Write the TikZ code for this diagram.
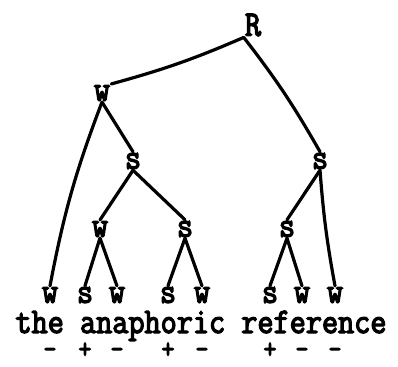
\documentclass[tikz,border=0pt]{standalone}
\usepackage{fontspec}
\newfontfamily\treefont[FakeBold=3.5, FakeStretch=0.87]{Latin Modern Mono}
\tikzset{
    lab/.style={font=\treefont\fontsize{36}{36}\selectfont, inner sep=1pt},
    sign/.style={font=\treefont\fontsize{29}{29}\selectfont, inner sep=0pt, anchor=base},
    branch/.style={line width=3.2pt, line cap=round, line join=round},
}

\begin{document}
\begin{tikzpicture}[x=1pt, y=-1pt]
    \useasboundingbox (0,0) rectangle (398,366);

    % Inner nodes
    \node[lab] (top) at (253,25) {R};
    \node[lab] (wl) at (102,93) {w};
    \node[lab] (sl) at (133,161) {s};
    \node[lab] (sr) at (320,161) {s};
    \node[lab] (wll) at (100,229) {w};
    \node[lab] (sll) at (185,229) {s};
    \node[lab] (srl) at (287,229) {s};

    % Leaves
    \node[lab] (the) at (50,295) {w};
    \node[lab] (a) at (85,295) {s};
    \node[lab] (na) at (117,295) {w};
    \node[lab] (pho) at (168,295) {s};
    \node[lab] (ric) at (202,295) {w};
    \node[lab] (re) at (270,295) {s};
    \node[lab] (fer) at (302,295) {w};
    \node[lab] (ence) at (335,295) {w};

    % Branches
    \draw[branch] (top.south west) to[bend left=4] (wl.north east);
    \draw[branch] (top.south west) to[bend left=4] (sr.north);
    \draw[branch] (wl.south) to[bend right=5] (the.north);
    \draw[branch] (wl.south) -- (sl.north);
    \draw[branch] (sl.south) -- (wll.north);
    \draw[branch] (sl.south) -- (sll.north);
    \draw[branch] (sr.south) -- (srl.north);
    \draw[branch] (sr.south) to[bend right=3] (ence.north);
    \draw[branch] (wll.south) -- (a.north);
    \draw[branch] (wll.south) -- (na.north);
    \draw[branch] (sll.south) -- (pho.north);
    \draw[branch] (sll.south) -- (ric.north);
    \draw[branch] (srl.south) -- (re.north);
    \draw[branch] (srl.south) -- (fer.north);

    % Words
    \node[lab, anchor=base, inner sep=0pt] (words) at (201,333) {the anaphoric reference};

    % Stress marks
    \foreach \n/\m in {the/-, a/+, na/-, pho/+, ric/-, re/+, fer/-, ence/-}
        \node[sign] at (\n |- 0,358) {\m};
\end{tikzpicture}
\end{document}
